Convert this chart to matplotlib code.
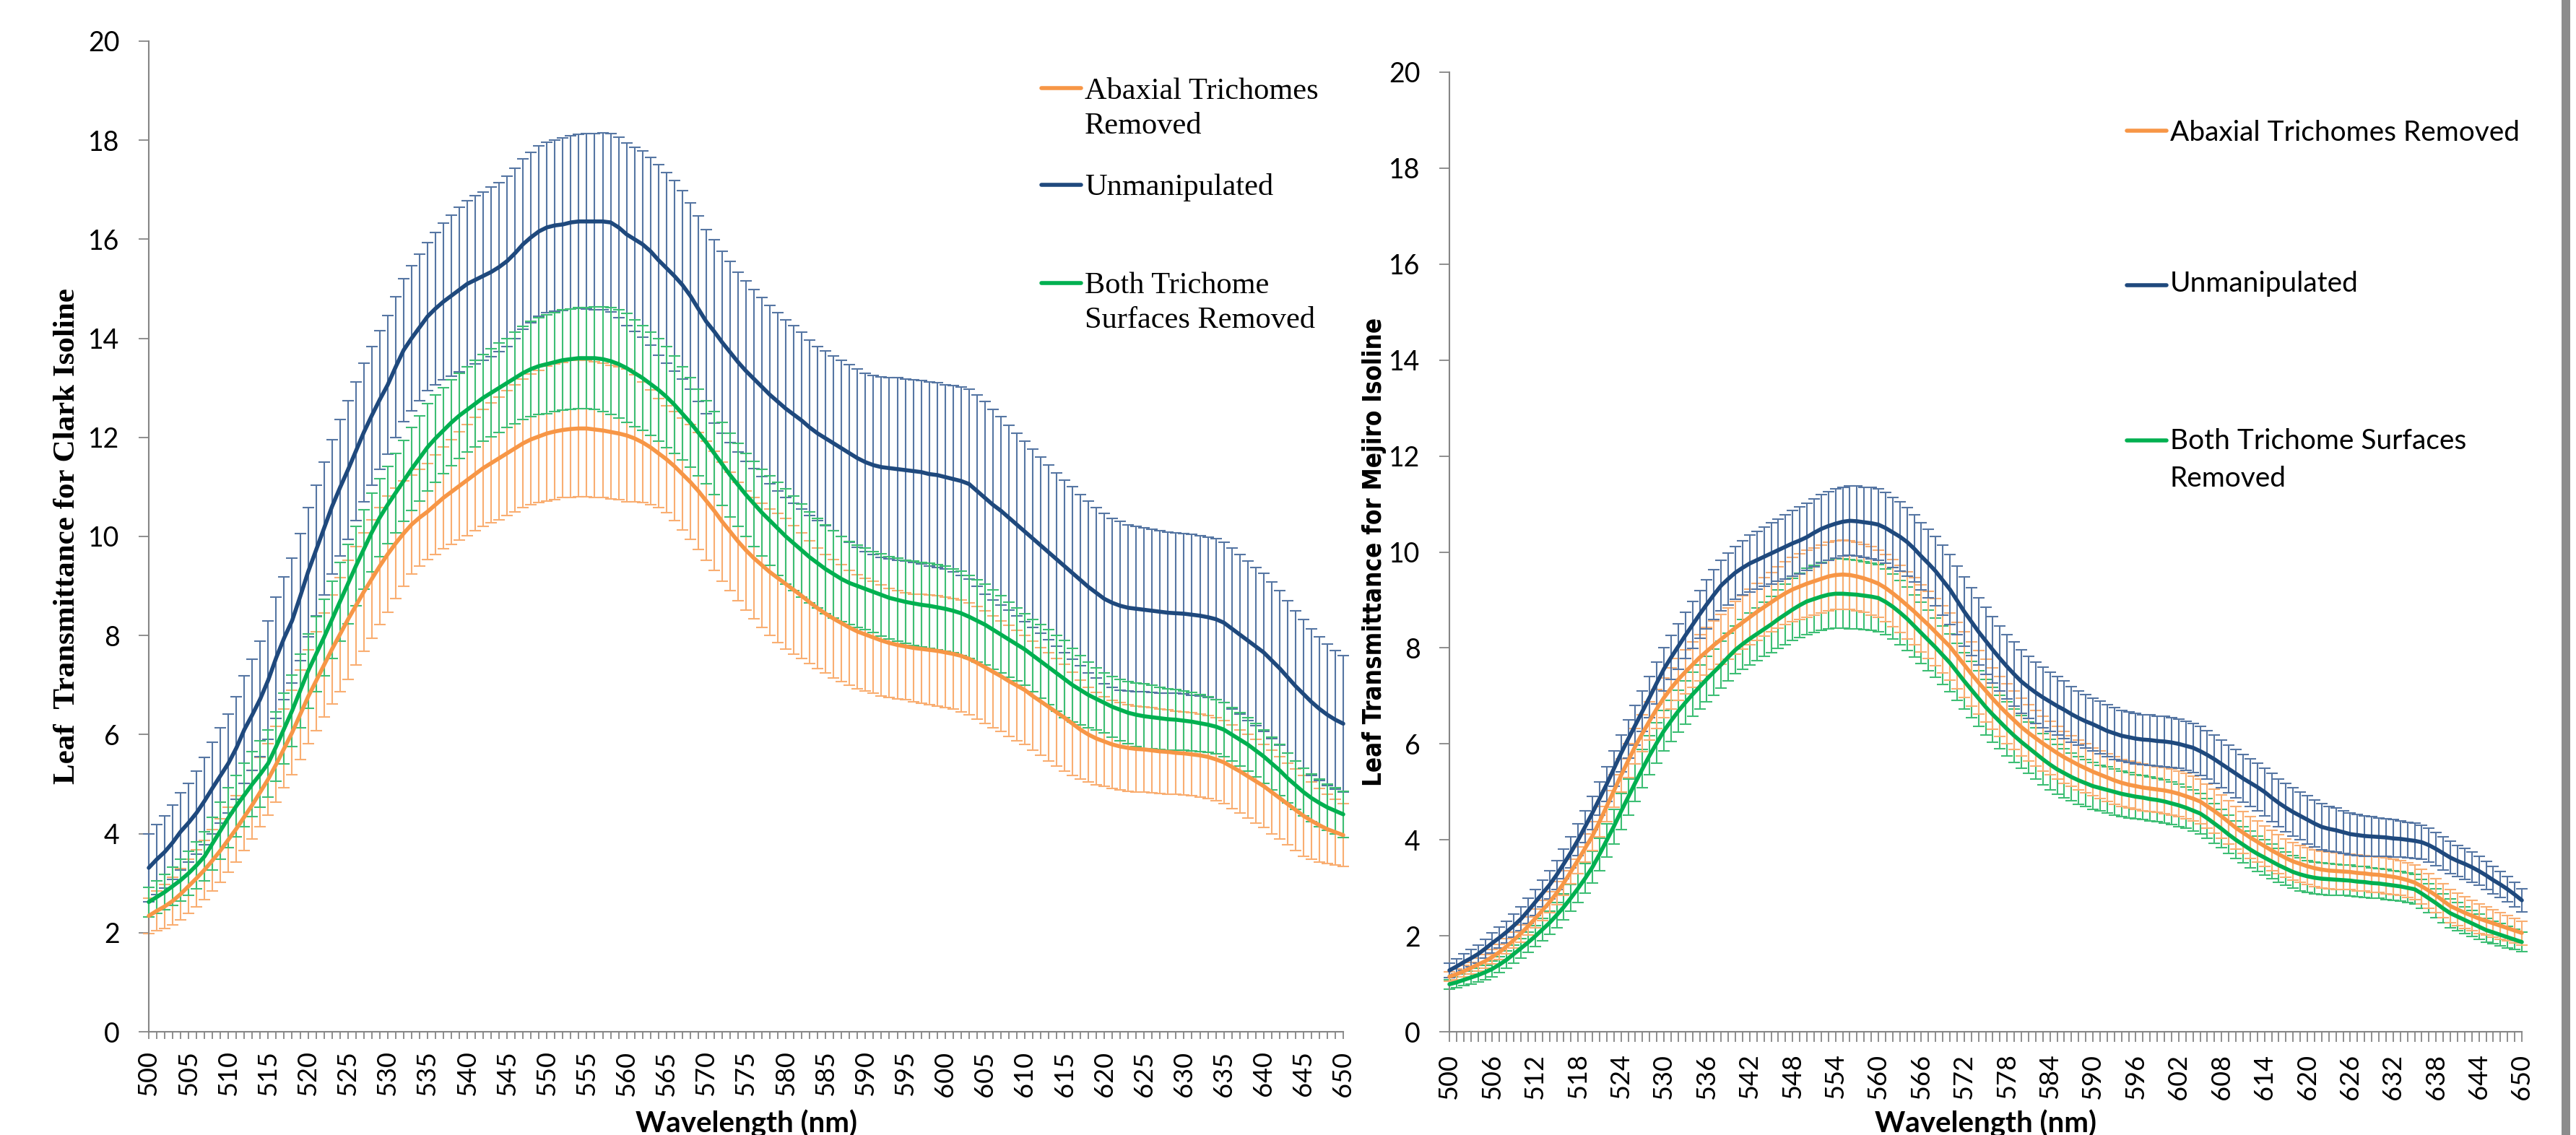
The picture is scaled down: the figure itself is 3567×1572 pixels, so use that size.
import matplotlib
matplotlib.use('Agg')
import matplotlib.pyplot as plt
from matplotlib.lines import Line2D
from matplotlib.patches import Rectangle

plt.rcParams['font.family'] = ['Lato', 'DejaVu Sans']

# ---------------- data ----------------
wavelength = list(range(500, 651))

# Left panel: Clark isoline
clark_unmanip = [
    3.31, 3.48, 3.63, 3.82, 4.04, 4.22, 4.42, 4.66, 4.92, 5.17,
    5.42, 5.73, 6.10, 6.40, 6.72, 7.10, 7.55, 7.95, 8.30, 8.78,
    9.28, 9.72, 10.16, 10.60, 10.98, 11.34, 11.72, 12.10, 12.44, 12.76,
    13.06, 13.42, 13.76, 14.00, 14.22, 14.44, 14.60, 14.74, 14.86, 14.98,
    15.10, 15.18, 15.26, 15.34, 15.44, 15.56, 15.72, 15.90, 16.04, 16.16,
    16.24, 16.28, 16.30, 16.34, 16.36, 16.36, 16.36, 16.36, 16.34, 16.24,
    16.10, 16.00, 15.90, 15.76, 15.58, 15.42, 15.26, 15.08, 14.86, 14.60,
    14.34, 14.14, 13.92, 13.72, 13.52, 13.34, 13.18, 13.02, 12.86, 12.72,
    12.58, 12.46, 12.34, 12.20, 12.08, 11.98, 11.88, 11.78, 11.68, 11.58,
    11.50, 11.44, 11.40, 11.38, 11.36, 11.34, 11.32, 11.30, 11.26, 11.24,
    11.20, 11.16, 11.12, 11.06, 10.92, 10.78, 10.64, 10.52, 10.38, 10.24,
    10.10, 9.96, 9.82, 9.68, 9.54, 9.40, 9.26, 9.12, 8.98, 8.86,
    8.74, 8.66, 8.60, 8.56, 8.54, 8.52, 8.50, 8.48, 8.46, 8.45,
    8.44, 8.42, 8.40, 8.37, 8.33, 8.26, 8.14, 8.02, 7.90, 7.78,
    7.66, 7.50, 7.34, 7.16, 6.98, 6.82, 6.66, 6.52, 6.40, 6.30,
    6.22]
clark_unmanip_err = [
    0.69, 0.71, 0.73, 0.75, 0.78, 0.80, 0.84, 0.88, 0.92, 0.96,
    1.00, 1.04, 1.08, 1.12, 1.16, 1.20, 1.22, 1.24, 1.26, 1.28,
    1.30, 1.32, 1.34, 1.36, 1.38, 1.40, 1.40, 1.40, 1.40, 1.40,
    1.40, 1.42, 1.44, 1.46, 1.48, 1.50, 1.54, 1.58, 1.62, 1.66,
    1.68, 1.70, 1.70, 1.71, 1.71, 1.72, 1.72, 1.72, 1.72, 1.72,
    1.72, 1.73, 1.74, 1.75, 1.76, 1.77, 1.78, 1.79, 1.80, 1.82,
    1.84, 1.86, 1.88, 1.90, 1.92, 1.92, 1.92, 1.90, 1.88, 1.87,
    1.86, 1.85, 1.84, 1.83, 1.82, 1.82, 1.81, 1.81, 1.80, 1.80,
    1.80, 1.79, 1.78, 1.77, 1.76, 1.76, 1.77, 1.78, 1.79, 1.80,
    1.80, 1.81, 1.82, 1.83, 1.84, 1.84, 1.85, 1.85, 1.86, 1.86,
    1.86, 1.88, 1.90, 1.92, 1.93, 1.94, 1.92, 1.90, 1.87, 1.84,
    1.82, 1.80, 1.78, 1.77, 1.75, 1.74, 1.74, 1.73, 1.73, 1.72,
    1.72, 1.71, 1.70, 1.68, 1.67, 1.66, 1.65, 1.64, 1.63, 1.62,
    1.62, 1.62, 1.62, 1.62, 1.62, 1.62, 1.62, 1.61, 1.61, 1.60,
    1.60, 1.58, 1.56, 1.54, 1.52, 1.50, 1.48, 1.45, 1.43, 1.40,
    1.38]
clark_both = [
    2.62, 2.72, 2.82, 2.94, 3.06, 3.20, 3.36, 3.54, 3.80, 4.06,
    4.32, 4.56, 4.78, 5.00, 5.20, 5.42, 5.76, 6.12, 6.48, 6.88,
    7.28, 7.62, 7.96, 8.32, 8.68, 9.04, 9.40, 9.74, 10.08, 10.38,
    10.64, 10.88, 11.12, 11.36, 11.58, 11.80, 11.98, 12.14, 12.30, 12.44,
    12.56, 12.68, 12.80, 12.90, 13.00, 13.10, 13.20, 13.30, 13.38, 13.44,
    13.48, 13.52, 13.56, 13.58, 13.60, 13.60, 13.60, 13.58, 13.54, 13.48,
    13.40, 13.30, 13.20, 13.08, 12.96, 12.82, 12.66, 12.48, 12.30, 12.10,
    11.90, 11.68, 11.46, 11.24, 11.04, 10.84, 10.66, 10.48, 10.32, 10.16,
    10.00, 9.86, 9.72, 9.58, 9.46, 9.34, 9.24, 9.14, 9.06, 9.00,
    8.94, 8.88, 8.82, 8.76, 8.72, 8.68, 8.65, 8.62, 8.60, 8.57,
    8.54, 8.50, 8.45, 8.38, 8.30, 8.22, 8.12, 8.02, 7.92, 7.82,
    7.72, 7.60, 7.48, 7.36, 7.24, 7.12, 7.00, 6.90, 6.80, 6.72,
    6.64, 6.56, 6.50, 6.44, 6.40, 6.37, 6.35, 6.33, 6.31, 6.30,
    6.28, 6.26, 6.23, 6.20, 6.16, 6.10, 6.00, 5.90, 5.80, 5.68,
    5.56, 5.42, 5.28, 5.12, 4.98, 4.84, 4.72, 4.62, 4.53, 4.46,
    4.39]
clark_both_err = [
    0.30, 0.33, 0.36, 0.39, 0.42, 0.44, 0.47, 0.50, 0.53, 0.57,
    0.60, 0.62, 0.64, 0.66, 0.67, 0.68, 0.70, 0.71, 0.72, 0.74,
    0.75, 0.76, 0.77, 0.78, 0.79, 0.80, 0.80, 0.80, 0.79, 0.79,
    0.78, 0.80, 0.82, 0.84, 0.86, 0.88, 0.88, 0.87, 0.87, 0.86,
    0.86, 0.87, 0.88, 0.89, 0.90, 0.90, 0.92, 0.94, 0.96, 0.98,
    1.00, 1.00, 1.01, 1.01, 1.02, 1.02, 1.04, 1.06, 1.08, 1.09,
    1.10, 1.08, 1.06, 1.04, 1.03, 1.02, 0.98, 0.94, 0.90, 0.87,
    0.84, 0.84, 0.84, 0.84, 0.84, 0.84, 0.86, 0.88, 0.91, 0.94,
    0.96, 0.95, 0.94, 0.92, 0.91, 0.90, 0.88, 0.86, 0.84, 0.83,
    0.82, 0.82, 0.83, 0.83, 0.84, 0.84, 0.85, 0.85, 0.86, 0.86,
    0.86, 0.85, 0.85, 0.84, 0.83, 0.82, 0.80, 0.78, 0.76, 0.74,
    0.72, 0.73, 0.74, 0.76, 0.77, 0.78, 0.74, 0.70, 0.66, 0.62,
    0.60, 0.61, 0.62, 0.63, 0.64, 0.65, 0.64, 0.63, 0.62, 0.61,
    0.60, 0.59, 0.58, 0.56, 0.55, 0.54, 0.54, 0.54, 0.54, 0.54,
    0.54, 0.53, 0.52, 0.50, 0.49, 0.48, 0.48, 0.48, 0.47, 0.47,
    0.47]
clark_abaxial = [
    2.34, 2.44, 2.53, 2.64, 2.78, 2.94, 3.10, 3.27, 3.46, 3.66,
    3.88, 4.10, 4.34, 4.58, 4.84, 5.10, 5.40, 5.72, 6.04, 6.40,
    6.76, 7.08, 7.40, 7.72, 8.02, 8.32, 8.60, 8.88, 9.14, 9.40,
    9.64, 9.86, 10.06, 10.24, 10.38, 10.50, 10.64, 10.78, 10.90, 11.02,
    11.14, 11.26, 11.38, 11.48, 11.58, 11.68, 11.78, 11.88, 11.96, 12.02,
    12.08, 12.12, 12.15, 12.17, 12.18, 12.18, 12.16, 12.14, 12.11, 12.08,
    12.04, 11.98, 11.90, 11.80, 11.68, 11.56, 11.42, 11.26, 11.10, 10.92,
    10.72, 10.52, 10.30, 10.10, 9.90, 9.72, 9.56, 9.42, 9.28, 9.16,
    9.04, 8.92, 8.80, 8.67, 8.55, 8.44, 8.34, 8.25, 8.16, 8.08,
    8.02, 7.96, 7.90, 7.85, 7.81, 7.78, 7.75, 7.73, 7.71, 7.69,
    7.66, 7.63, 7.59, 7.53, 7.45, 7.36, 7.27, 7.18, 7.08, 6.99,
    6.90, 6.78, 6.67, 6.56, 6.45, 6.34, 6.22, 6.10, 6.00, 5.92,
    5.86, 5.80, 5.76, 5.73, 5.71, 5.70, 5.68, 5.66, 5.65, 5.63,
    5.62, 5.60, 5.58, 5.55, 5.50, 5.44, 5.35, 5.26, 5.16, 5.06,
    4.96, 4.84, 4.72, 4.60, 4.48, 4.36, 4.26, 4.17, 4.09, 4.03,
    3.97]
clark_abaxial_err = [
    0.36, 0.40, 0.44, 0.48, 0.52, 0.55, 0.58, 0.60, 0.62, 0.64,
    0.66, 0.67, 0.68, 0.69, 0.70, 0.72, 0.76, 0.80, 0.85, 0.90,
    0.95, 1.00, 1.05, 1.10, 1.15, 1.20, 1.20, 1.20, 1.19, 1.18,
    1.17, 1.12, 1.06, 1.00, 0.98, 0.97, 1.00, 1.03, 1.06, 1.09,
    1.12, 1.15, 1.18, 1.21, 1.24, 1.26, 1.28, 1.30, 1.32, 1.34,
    1.36, 1.37, 1.37, 1.38, 1.38, 1.38, 1.37, 1.36, 1.35, 1.34,
    1.34, 1.28, 1.22, 1.16, 1.10, 1.08, 1.10, 1.13, 1.16, 1.18,
    1.20, 1.20, 1.20, 1.20, 1.20, 1.20, 1.22, 1.25, 1.28, 1.30,
    1.32, 1.30, 1.27, 1.24, 1.22, 1.20, 1.19, 1.18, 1.16, 1.15,
    1.14, 1.13, 1.12, 1.10, 1.09, 1.08, 1.09, 1.10, 1.11, 1.12,
    1.12, 1.12, 1.13, 1.13, 1.14, 1.14, 1.13, 1.12, 1.12, 1.11,
    1.10, 1.10, 1.09, 1.09, 1.08, 1.08, 1.04, 1.00, 0.96, 0.93,
    0.90, 0.89, 0.88, 0.87, 0.87, 0.86, 0.86, 0.85, 0.85, 0.84,
    0.84, 0.84, 0.84, 0.84, 0.84, 0.84, 0.84, 0.84, 0.84, 0.84,
    0.84, 0.84, 0.83, 0.83, 0.82, 0.82, 0.78, 0.74, 0.70, 0.66,
    0.63]

# Right panel: Mejiro isoline
mejiro_unmanip = [
    1.28, 1.36, 1.45, 1.53, 1.62, 1.73, 1.85, 1.96, 2.08, 2.21,
    2.35, 2.52, 2.70, 2.88, 3.06, 3.27, 3.50, 3.74, 4.00, 4.28,
    4.56, 4.86, 5.16, 5.48, 5.80, 6.10, 6.39, 6.68, 6.97, 7.27,
    7.56, 7.80, 8.03, 8.26, 8.48, 8.70, 8.91, 9.11, 9.30, 9.44,
    9.57, 9.67, 9.76, 9.83, 9.90, 9.97, 10.04, 10.11, 10.18, 10.24,
    10.31, 10.40, 10.48, 10.54, 10.59, 10.63, 10.65, 10.64, 10.62, 10.60,
    10.57, 10.50, 10.41, 10.32, 10.21, 10.07, 9.91, 9.76, 9.60, 9.41,
    9.22, 8.99, 8.76, 8.55, 8.34, 8.15, 7.96, 7.78, 7.61, 7.45,
    7.30, 7.18, 7.07, 6.97, 6.88, 6.79, 6.71, 6.62, 6.54, 6.47,
    6.41, 6.34, 6.27, 6.22, 6.17, 6.14, 6.11, 6.09, 6.08, 6.06,
    6.05, 6.03, 6.00, 5.96, 5.92, 5.85, 5.77, 5.68, 5.58, 5.48,
    5.38, 5.28, 5.19, 5.10, 5.00, 4.88, 4.77, 4.67, 4.58, 4.50,
    4.42, 4.34, 4.27, 4.23, 4.20, 4.16, 4.12, 4.10, 4.08, 4.07,
    4.06, 4.05, 4.03, 4.02, 4.00, 3.98, 3.95, 3.89, 3.81, 3.72,
    3.63, 3.56, 3.50, 3.43, 3.35, 3.26, 3.16, 3.07, 2.97, 2.86,
    2.74]
mejiro_unmanip_err = [
    0.15, 0.16, 0.17, 0.18, 0.19, 0.20, 0.21, 0.22, 0.23, 0.24,
    0.25, 0.26, 0.27, 0.28, 0.29, 0.30, 0.31, 0.32, 0.33, 0.33,
    0.34, 0.35, 0.36, 0.37, 0.38, 0.40, 0.41, 0.42, 0.43, 0.44,
    0.45, 0.46, 0.47, 0.48, 0.49, 0.50, 0.51, 0.52, 0.53, 0.54,
    0.55, 0.57, 0.59, 0.60, 0.62, 0.64, 0.65, 0.67, 0.69, 0.70,
    0.70, 0.71, 0.71, 0.72, 0.72, 0.72, 0.72, 0.73, 0.73, 0.74,
    0.75, 0.74, 0.73, 0.72, 0.71, 0.70, 0.70, 0.71, 0.72, 0.73,
    0.73, 0.72, 0.72, 0.71, 0.70, 0.70, 0.69, 0.68, 0.67, 0.67,
    0.66, 0.65, 0.64, 0.63, 0.62, 0.61, 0.60, 0.58, 0.57, 0.56,
    0.55, 0.55, 0.54, 0.54, 0.53, 0.53, 0.53, 0.52, 0.52, 0.52,
    0.52, 0.52, 0.51, 0.51, 0.51, 0.51, 0.51, 0.50, 0.50, 0.50,
    0.50, 0.50, 0.50, 0.50, 0.50, 0.50, 0.50, 0.50, 0.50, 0.50,
    0.50, 0.49, 0.48, 0.47, 0.46, 0.45, 0.44, 0.43, 0.42, 0.41,
    0.40, 0.39, 0.39, 0.38, 0.37, 0.37, 0.36, 0.36, 0.35, 0.35,
    0.34, 0.33, 0.32, 0.31, 0.30, 0.29, 0.28, 0.27, 0.26, 0.25,
    0.24]
mejiro_abaxial = [
    1.15, 1.20, 1.26, 1.33, 1.40, 1.47, 1.56, 1.66, 1.78, 1.91,
    2.05, 2.20, 2.36, 2.53, 2.70, 2.89, 3.10, 3.34, 3.58, 3.83,
    4.08, 4.38, 4.70, 5.02, 5.34, 5.65, 5.95, 6.22, 6.48, 6.73,
    6.96, 7.16, 7.34, 7.50, 7.65, 7.80, 7.93, 8.06, 8.18, 8.30,
    8.42, 8.53, 8.64, 8.75, 8.85, 8.95, 9.05, 9.14, 9.22, 9.28,
    9.34, 9.39, 9.44, 9.49, 9.52, 9.53, 9.52, 9.49, 9.45, 9.40,
    9.34, 9.25, 9.14, 9.02, 8.89, 8.76, 8.62, 8.48, 8.33, 8.18,
    8.03, 7.84, 7.65, 7.46, 7.28, 7.11, 6.94, 6.78, 6.63, 6.49,
    6.35, 6.23, 6.12, 6.01, 5.91, 5.81, 5.72, 5.64, 5.56, 5.49,
    5.42, 5.36, 5.30, 5.24, 5.19, 5.15, 5.12, 5.09, 5.07, 5.05,
    5.03, 5.00, 4.96, 4.91, 4.86, 4.80, 4.70, 4.60, 4.49, 4.37,
    4.25, 4.15, 4.05, 3.96, 3.87, 3.78, 3.70, 3.62, 3.55, 3.50,
    3.45, 3.41, 3.38, 3.36, 3.35, 3.34, 3.33, 3.31, 3.30, 3.28,
    3.27, 3.25, 3.23, 3.20, 3.16, 3.11, 3.03, 2.94, 2.84, 2.73,
    2.62, 2.55, 2.48, 2.42, 2.36, 2.31, 2.26, 2.21, 2.16, 2.11,
    2.06]
mejiro_abaxial_err = [
    0.10, 0.11, 0.12, 0.12, 0.13, 0.14, 0.15, 0.16, 0.16, 0.17,
    0.18, 0.19, 0.20, 0.21, 0.22, 0.24, 0.25, 0.26, 0.28, 0.29,
    0.30, 0.31, 0.32, 0.34, 0.35, 0.36, 0.37, 0.38, 0.40, 0.41,
    0.42, 0.43, 0.44, 0.46, 0.47, 0.48, 0.50, 0.51, 0.52, 0.54,
    0.55, 0.56, 0.58, 0.59, 0.61, 0.62, 0.64, 0.65, 0.67, 0.68,
    0.70, 0.70, 0.71, 0.71, 0.72, 0.72, 0.72, 0.72, 0.71, 0.71,
    0.70, 0.70, 0.70, 0.70, 0.70, 0.70, 0.70, 0.70, 0.70, 0.70,
    0.70, 0.69, 0.68, 0.67, 0.66, 0.65, 0.64, 0.63, 0.62, 0.61,
    0.60, 0.59, 0.58, 0.57, 0.56, 0.55, 0.54, 0.53, 0.52, 0.51,
    0.50, 0.50, 0.50, 0.50, 0.49, 0.49, 0.49, 0.49, 0.48, 0.48,
    0.48, 0.48, 0.47, 0.47, 0.47, 0.46, 0.46, 0.46, 0.45, 0.45,
    0.45, 0.44, 0.44, 0.43, 0.42, 0.42, 0.41, 0.40, 0.39, 0.39,
    0.38, 0.38, 0.38, 0.38, 0.38, 0.37, 0.37, 0.37, 0.37, 0.37,
    0.37, 0.37, 0.37, 0.36, 0.36, 0.36, 0.36, 0.36, 0.35, 0.35,
    0.35, 0.34, 0.33, 0.32, 0.31, 0.30, 0.29, 0.28, 0.27, 0.26,
    0.25]
mejiro_both = [
    0.99, 1.03, 1.08, 1.13, 1.18, 1.24, 1.31, 1.40, 1.50, 1.62,
    1.74, 1.86, 1.99, 2.13, 2.27, 2.43, 2.60, 2.79, 2.99, 3.20,
    3.43, 3.70, 3.99, 4.28, 4.59, 4.89, 5.19, 5.48, 5.76, 6.02,
    6.27, 6.48, 6.68, 6.86, 7.03, 7.19, 7.35, 7.50, 7.65, 7.81,
    7.96, 8.08, 8.19, 8.29, 8.39, 8.49, 8.60, 8.70, 8.80, 8.89,
    8.97, 9.02, 9.07, 9.11, 9.13, 9.13, 9.12, 9.11, 9.09, 9.07,
    9.04, 8.96, 8.86, 8.74, 8.61, 8.46, 8.31, 8.16, 8.01, 7.85,
    7.69, 7.50, 7.31, 7.13, 6.95, 6.77, 6.61, 6.46, 6.31, 6.17,
    6.04, 5.92, 5.80, 5.68, 5.57, 5.47, 5.39, 5.31, 5.24, 5.18,
    5.12, 5.08, 5.04, 5.00, 4.96, 4.93, 4.90, 4.88, 4.85, 4.83,
    4.80, 4.76, 4.72, 4.67, 4.61, 4.55, 4.45, 4.34, 4.23, 4.11,
    4.00, 3.90, 3.80, 3.71, 3.63, 3.55, 3.47, 3.40, 3.33, 3.28,
    3.24, 3.21, 3.19, 3.18, 3.17, 3.16, 3.15, 3.13, 3.12, 3.10,
    3.09, 3.07, 3.05, 3.03, 3.00, 2.97, 2.88, 2.78, 2.68, 2.57,
    2.47, 2.40, 2.33, 2.26, 2.19, 2.12, 2.07, 2.02, 1.97, 1.92,
    1.87]
mejiro_both_err = [
    0.10, 0.11, 0.12, 0.13, 0.14, 0.15, 0.16, 0.17, 0.18, 0.19,
    0.20, 0.21, 0.22, 0.23, 0.24, 0.26, 0.27, 0.28, 0.30, 0.31,
    0.33, 0.34, 0.35, 0.36, 0.37, 0.38, 0.39, 0.40, 0.41, 0.42,
    0.42, 0.43, 0.44, 0.45, 0.46, 0.46, 0.47, 0.48, 0.49, 0.49,
    0.50, 0.52, 0.54, 0.55, 0.57, 0.59, 0.61, 0.63, 0.65, 0.67,
    0.69, 0.70, 0.71, 0.71, 0.72, 0.72, 0.72, 0.71, 0.71, 0.70,
    0.70, 0.69, 0.68, 0.67, 0.66, 0.65, 0.64, 0.63, 0.62, 0.61,
    0.60, 0.60, 0.59, 0.59, 0.58, 0.58, 0.57, 0.56, 0.56, 0.55,
    0.55, 0.54, 0.54, 0.53, 0.53, 0.52, 0.51, 0.50, 0.50, 0.49,
    0.49, 0.48, 0.48, 0.48, 0.47, 0.47, 0.46, 0.46, 0.46, 0.45,
    0.45, 0.44, 0.44, 0.43, 0.43, 0.42, 0.41, 0.41, 0.40, 0.40,
    0.39, 0.38, 0.38, 0.37, 0.37, 0.36, 0.35, 0.35, 0.34, 0.34,
    0.33, 0.33, 0.33, 0.33, 0.32, 0.32, 0.32, 0.32, 0.32, 0.31,
    0.31, 0.31, 0.31, 0.31, 0.31, 0.31, 0.30, 0.30, 0.30, 0.30,
    0.30, 0.29, 0.28, 0.27, 0.26, 0.25, 0.24, 0.23, 0.22, 0.21,
    0.20]

y_ticks = list(range(0, 21, 2))
left_xtick_labels = list(range(500, 651, 5))
right_xtick_labels = list(range(500, 651, 6))

for arr in (clark_unmanip, clark_unmanip_err, clark_both, clark_both_err,
            clark_abaxial, clark_abaxial_err, mejiro_unmanip, mejiro_unmanip_err,
            mejiro_abaxial, mejiro_abaxial_err, mejiro_both, mejiro_both_err):
    assert len(arr) == len(wavelength), len(arr)

# ---------------- style ----------------
W, H = 3567, 1572
ORANGE, BLUE, GREEN = '#F79646', '#1F497D', '#00B050'
ORANGE_E, BLUE_E, GREEN_E = '#F9AE72', '#5676A3', '#3DBE74'
AXC = '#868686'

fig = plt.figure(figsize=(W / 100, H / 100), dpi=100)
fig.patch.set_facecolor('white')

def fx(x):
    return x / W

def fy(y):
    return 1 - y / H

axL = fig.add_axes([fx(206), fy(1429), (1860 - 206) / W, (1429 - 57) / H])
axR = fig.add_axes([fx(2007), fy(1429), (3492 - 2007) / W, (1429 - 100) / H])


def draw_panel(ax, series, xlabels, xtick_len):
    for mean, err, lc, ec, z in series:
        cont = ax.errorbar(wavelength, mean, yerr=err, fmt='none', ecolor=ec,
                           elinewidth=1.5, capsize=6, capthick=1.5, zorder=z)
        for art in list(cont.lines[1]) + list(cont.lines[2]):
            art.set_clip_on(False)
    for mean, err, lc, ec, z in series:
        ax.plot(wavelength, mean, color=lc, lw=4.0, zorder=10,
                solid_joinstyle='round', solid_capstyle='round', clip_on=False)
    ax.set_xlim(500, 650)
    ax.set_ylim(0, 20)
    ax.set_yticks(y_ticks)
    ax.set_yticklabels([str(v) for v in y_ticks])
    ax.set_xticks(xlabels)
    ax.set_xticklabels([str(v) for v in xlabels], rotation=90)
    ax.set_xticks(wavelength, minor=True)
    for s in ('top', 'right'):
        ax.spines[s].set_visible(False)
    for s in ('left', 'bottom'):
        ax.spines[s].set_color(AXC)
        ax.spines[s].set_linewidth(1.5)
    ax.tick_params(axis='y', direction='out', length=10, width=1.3, color=AXC,
                   pad=19, labelsize=27)
    ax.tick_params(axis='x', which='both', direction='out', length=xtick_len,
                   width=1.3, color=AXC, pad=12, labelsize=26)
    ax.patch.set_alpha(0)


draw_panel(axL, [
    (clark_abaxial, clark_abaxial_err, ORANGE, ORANGE_E, 2),
    (clark_unmanip, clark_unmanip_err, BLUE, BLUE_E, 3),
    (clark_both, clark_both_err, GREEN, GREEN_E, 4),
], left_xtick_labels, 7)

draw_panel(axR, [
    (mejiro_both, mejiro_both_err, GREEN, GREEN_E, 2),
    (mejiro_abaxial, mejiro_abaxial_err, ORANGE, ORANGE_E, 3),
    (mejiro_unmanip, mejiro_unmanip_err, BLUE, BLUE_E, 4),
], right_xtick_labels, 10)

# axis titles
fig.text(fx(93), fy(743), "Leaf  Transmittance for Clark Isoline",
         rotation=90, ha='center', va='center', fontsize=31,
         fontweight='bold', family=['Liberation Serif', 'DejaVu Serif'])
fig.text(fx(1903), fy(764), "Leaf Transmittance for Mejiro Isoline",
         rotation=90, ha='center', va='center', fontsize=25,
         fontweight='bold', fontstretch='condensed',
         family=['DejaVu Sans Condensed', 'DejaVu Sans'])
fig.text(fx(1034), fy(1568), "Wavelength (nm)", ha='center', va='baseline',
         fontsize=29, fontweight='bold')
fig.text(fx(2750), fy(1568), "Wavelength (nm)", ha='center', va='baseline',
         fontsize=29, fontweight='bold')

# legends (drawn manually to match placement)
def leg_line(x0, x1, y, color):
    fig.add_artist(Line2D([fx(x0), fx(x1)], [fy(y), fy(y)], color=color, lw=4.0,
                          solid_capstyle='round', transform=fig.transFigure))

serif = ['Liberation Serif', 'DejaVu Serif']
leg_line(1442, 1497, 122, ORANGE)
leg_line(1442, 1497, 256, BLUE)
leg_line(1442, 1497, 392, GREEN)
for txt, yb in [("Abaxial Trichomes", 137), ("Removed", 185),
                ("Unmanipulated", 270), ("Both Trichome", 406),
                ("Surfaces Removed", 454)]:
    fig.text(fx(1502), fy(yb), txt, ha='left', va='baseline', fontsize=30.5,
             family=serif)

leg_line(2945, 3000, 181, ORANGE)
leg_line(2945, 3000, 395, BLUE)
leg_line(2945, 3000, 610, GREEN)
for txt, yb in [("Abaxial Trichomes Removed", 195), ("Unmanipulated", 404),
                ("Both Trichome Surfaces", 622), ("Removed", 674)]:
    fig.text(fx(3005), fy(yb), txt, ha='left', va='baseline', fontsize=28)

# grey border strip at the right edge
fig.add_artist(Rectangle((fx(3547), 0), 12 / W, 1, transform=fig.transFigure,
                         facecolor='#8C8C8C', edgecolor='none'))

fig.savefig('out.png', dpi=100, facecolor='white')
